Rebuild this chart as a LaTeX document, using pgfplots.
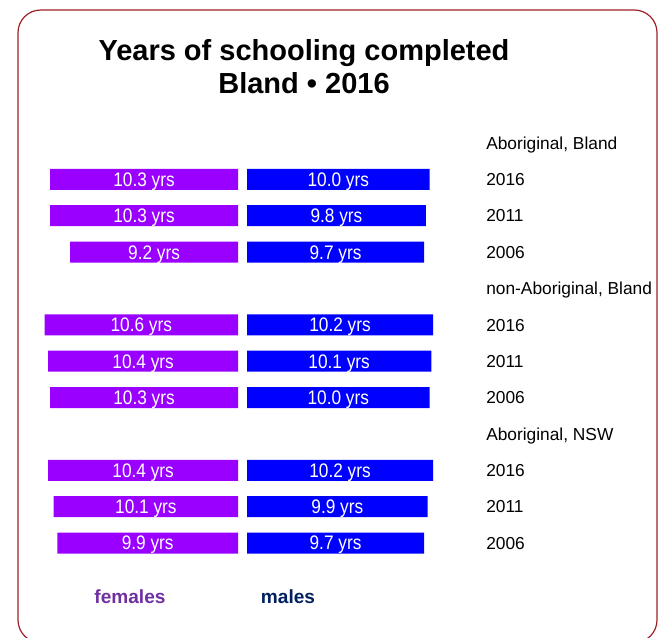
\documentclass[border=0pt]{standalone}
\usepackage{pgfplots}
\pgfplotsset{compat=1.18}
\usepackage{pgfplotstable}
\usepackage{graphicx}
\usepackage{fontspec}
\setmainfont{Liberation Sans}
\definecolor{fembar}{RGB}{153,0,255}
\definecolor{malebar}{RGB}{0,0,255}
\definecolor{femtext}{RGB}{112,48,160}
\definecolor{maletext}{RGB}{0,32,96}
\definecolor{frame}{RGB}{160,32,40}
\pgfplotstableread{
s v lab
1 10.3 10.3
2 10.3 10.3
3 9.2 9.2
5 10.6 10.6
6 10.4 10.4
7 10.3 10.3
9 10.4 10.4
10 10.1 10.1
11 9.9 9.9
}\females
\pgfplotstableread{
s v lab
1 10.0 10.0
2 9.8 9.8
3 9.7 9.7
5 10.2 10.2
6 10.1 10.1
7 10.0 10.0
9 10.2 10.2
10 9.9 9.9
11 9.7 9.7
}\males
\pgfplotsset{
  barax/.style={
    scale only axis, hide axis, clip=false,
    width=150.5625pt, height=327.27pt,
    xmin=0, xmax=11, ymin=-0.5, ymax=11.5, y dir=reverse,
    enlargelimits=false,
  },
  barlab/.style={
    draw=none, mark=none,
    point meta=explicit symbolic,
    nodes near coords={\scalebox{0.88}[1]{\pgfplotspointmeta\ yrs}},
    nodes near coords align=center,
    every node near coord/.style={anchor=base, yshift=-5.25pt, text=white, font=\fontsize{14.7}{14.7}\selectfont, inner sep=0pt},
  },
}
\begin{document}
\begin{tikzpicture}
\useasboundingbox (0,0) rectangle (497.25pt,-477.75pt);
\begin{scope}
\clip (0,0) rectangle (497.25pt,-477.75pt);
\draw[frame, line width=0.9pt, rounded corners=17pt] (13.5pt,-7.5pt) rectangle (492.75pt,-482pt);
\end{scope}
\node[font=\bfseries\fontsize{21.75}{24.75}\selectfont, align=center, anchor=center] at (228pt,-50.25pt) {Years of schooling completed\\Bland • 2016};
\begin{axis}[barax, at={(178.5pt,-93.6pt)}, anchor=north east, x dir=reverse]
\addplot[xbar, bar width=15.75pt, fill=fembar, draw=none] table[x=v, y=s] {\females};
\addplot[barlab] table[x expr=\thisrow{v}/2, y=s, meta=lab] {\females};
\end{axis}
\begin{axis}[barax, at={(185.25pt,-93.6pt)}, anchor=north west]
\addplot[xbar, bar width=15.75pt, fill=malebar, draw=none] table[x=v, y=s] {\males};
\addplot[barlab] table[x expr=\thisrow{v}/2, y=s, meta=lab] {\males};
\end{axis}
\begin{scope}[every node/.style={anchor=base west, inner sep=0pt, yshift=-4.65pt, font=\fontsize{13}{13}\selectfont}]
\node at (364.5pt,-107.25pt) {Aboriginal, Bland};
\node at (364.5pt,-134.52pt) {2016};
\node at (364.5pt,-161.79pt) {2011};
\node at (364.5pt,-189.06pt) {2006};
\node at (364.5pt,-216.33pt) {non-Aboriginal, Bland};
\node at (364.5pt,-243.60pt) {2016};
\node at (364.5pt,-270.87pt) {2011};
\node at (364.5pt,-298.14pt) {2006};
\node at (364.5pt,-325.41pt) {Aboriginal, NSW};
\node at (364.5pt,-352.68pt) {2016};
\node at (364.5pt,-379.95pt) {2011};
\node at (364.5pt,-407.22pt) {2006};
\end{scope}
\node[font=\bfseries\fontsize{14.3}{14.3}\selectfont, text=femtext] at (97.5pt,-447.75pt) {females};
\node[font=\bfseries\fontsize{14.3}{14.3}\selectfont, text=maletext] at (216pt,-447.75pt) {males};
\end{tikzpicture}
\end{document}
